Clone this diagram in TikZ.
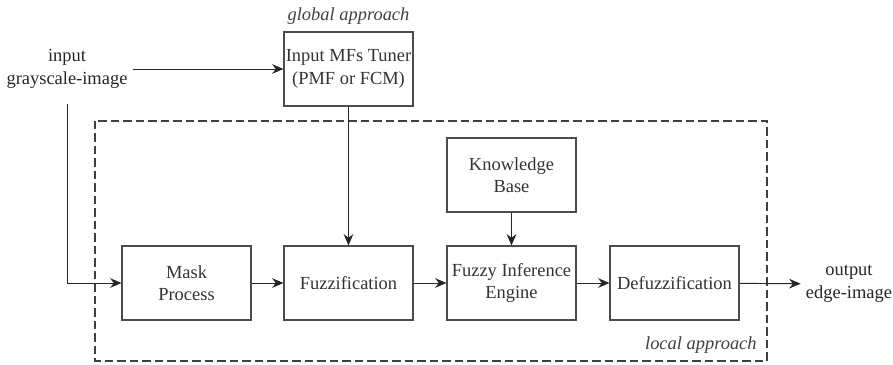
\documentclass[tikz,border=0pt]{standalone}
\usepackage{fontspec}
\setmainfont{Liberation Serif}
\usetikzlibrary{arrows.meta}
\tikzset{block/.style={draw=black!70, line width=.6pt, minimum width=2.58cm, minimum height=1.48cm,
      align=center, text=black!80, inner sep=1pt},
    lbl/.style={align=center, text=black!85, inner sep=.1cm},
    flow/.style={-{Stealth[length=6.5pt,width=5.5pt]}, black!85, line width=.55pt},
    frame/.style={black!75, line width=.7pt, dash pattern=on .17cm off .08cm},
    tag/.style={font=\fontsize{10.5}{12.5}\selectfont\itshape, text=black!75, inner sep=0pt}}

\begin{document}
\begin{tikzpicture}[x=0.02cm, y=-0.02cm, font=\fontsize{10.5}{12.8}\selectfont]
    \useasboundingbox (0,0) rectangle (893,365);
    % local approach frame
    \draw[frame] (95,121) rectangle (767,361);
    \node[tag, anchor=east] (local) at (757,345) {local approach};
    \node[tag] (global) at (348.5,16) {global approach};
    % blocks
    \node[block] (tuner) at (348.5,69) {Input MFs Tuner\\(PMF or FCM)};
    \node[block] (kb) at (511.5,175) {Knowledge\\Base};
    \node[block] (mask) at (186.5,283) {Mask\\Process};
    \node[block] (fuzz) at (348.5,283) {Fuzzification};
    \node[block] (fie) at (511.5,283) {Fuzzy Inference\\Engine};
    \node[block] (defuzz) at (674.5,283) {Defuzzification};
    \node[lbl] (in) at (67,69) {input\\grayscale-image};
    \node[lbl] (out) at (849,284) {output\\edge-image};
    % connectors
    \draw[flow] (in) -- (tuner);
    \draw[flow, shorten <=.2cm] (in.south) |- (mask);
    \draw[flow] (tuner) -- (fuzz);
    \draw[flow] (kb) -- (fie);
    \draw[flow] (mask) -- (fuzz);
    \draw[flow] (fuzz) -- (fie);
    \draw[flow] (fie) -- (defuzz);
    \draw[flow] (defuzz) -- (out);
\end{tikzpicture}
\end{document}
